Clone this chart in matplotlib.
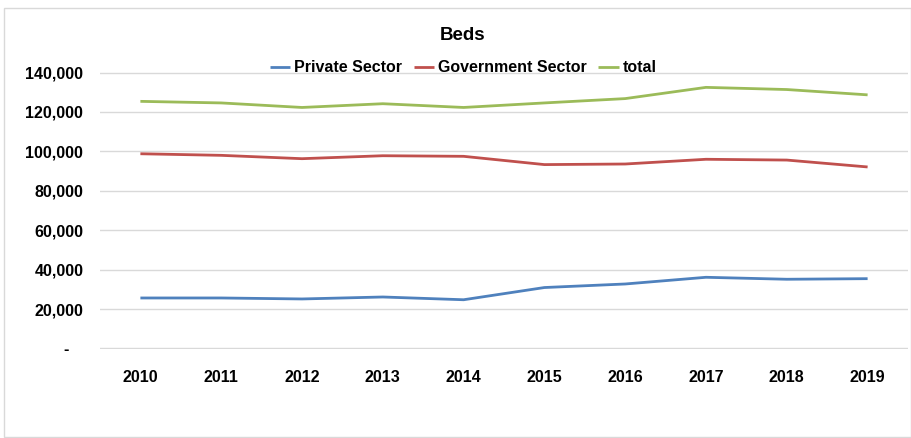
import matplotlib
matplotlib.use("Agg")
import matplotlib.pyplot as plt
from matplotlib.patches import Rectangle
from matplotlib.ticker import FixedLocator, FixedFormatter

plt.rcParams['font.family'] = ['Liberation Sans', 'DejaVu Sans']

years = ['2010', '2011', '2012', '2013', '2014', '2015', '2016', '2017', '2018', '2019']
private_sector = [25600, 25600, 25100, 26100, 24700, 30900, 32700, 36100, 35100, 35400]
government_sector = [98800, 98000, 96300, 97800, 97500, 93300, 93600, 96000, 95600, 92100]
total = [125400, 124600, 122300, 124200, 122300, 124600, 126800, 132500, 131400, 128700]

y_ticks = [0, 20000, 40000, 60000, 80000, 100000, 120000, 140000]
y_labels = ['-   ', '20,000', '40,000', '60,000', '80,000', '100,000', '120,000', '140,000']

W, H = 912, 438
fig = plt.figure(figsize=(W / 100, H / 100), dpi=100)
fig.patch.set_facecolor('white')

# outer chart border
fig.patches.append(Rectangle((4 / W, 0.002), 1 - 5 / W, 1 - 8 / H - 0.002,
                             transform=fig.transFigure, fill=False,
                             edgecolor='#D9D9D9', linewidth=1.0))

ax = fig.add_axes([100 / W, 1 - 349 / H, 808 / W, (349 - 72) / H])
x = list(range(len(years)))

ax.plot(x, private_sector, color='#4F81BD', lw=2.0, label='Private Sector', solid_capstyle='butt')
ax.plot(x, government_sector, color='#C0504D', lw=2.0, label='Government Sector', solid_capstyle='butt')
ax.plot(x, total, color='#9BBB59', lw=2.0, label='total', solid_capstyle='butt')

ax.set_xlim(-0.5, len(years) - 0.5)
ax.set_ylim(-300, 140300)
ax.yaxis.set_major_locator(FixedLocator(y_ticks))
ax.yaxis.set_major_formatter(FixedFormatter(y_labels))
ax.set_xticks(x)
ax.set_xticklabels(years)
ax.grid(axis='y', color='#D9D9D9', lw=1.0)
ax.set_axisbelow(True)
for s in ax.spines.values():
    s.set_visible(False)
ax.tick_params(axis='both', length=0, labelsize=11.5)
ax.tick_params(axis='y', pad=12)
ax.tick_params(axis='x', pad=15)
for lbl in ax.get_xticklabels() + ax.get_yticklabels():
    lbl.set_fontweight('bold')

fig.text(463 / W, 1 - 35 / H, 'Beds', ha='center', va='center',
         fontsize=13.5, fontweight='bold')

fig.legend(loc='center', bbox_to_anchor=(463 / W, 1 - 68 / H), ncol=3,
           frameon=False, prop={'weight': 'bold', 'size': 11.5},
           handlelength=1.3, handletextpad=0.2, columnspacing=0.75)

fig.savefig('out.png', dpi=100)
